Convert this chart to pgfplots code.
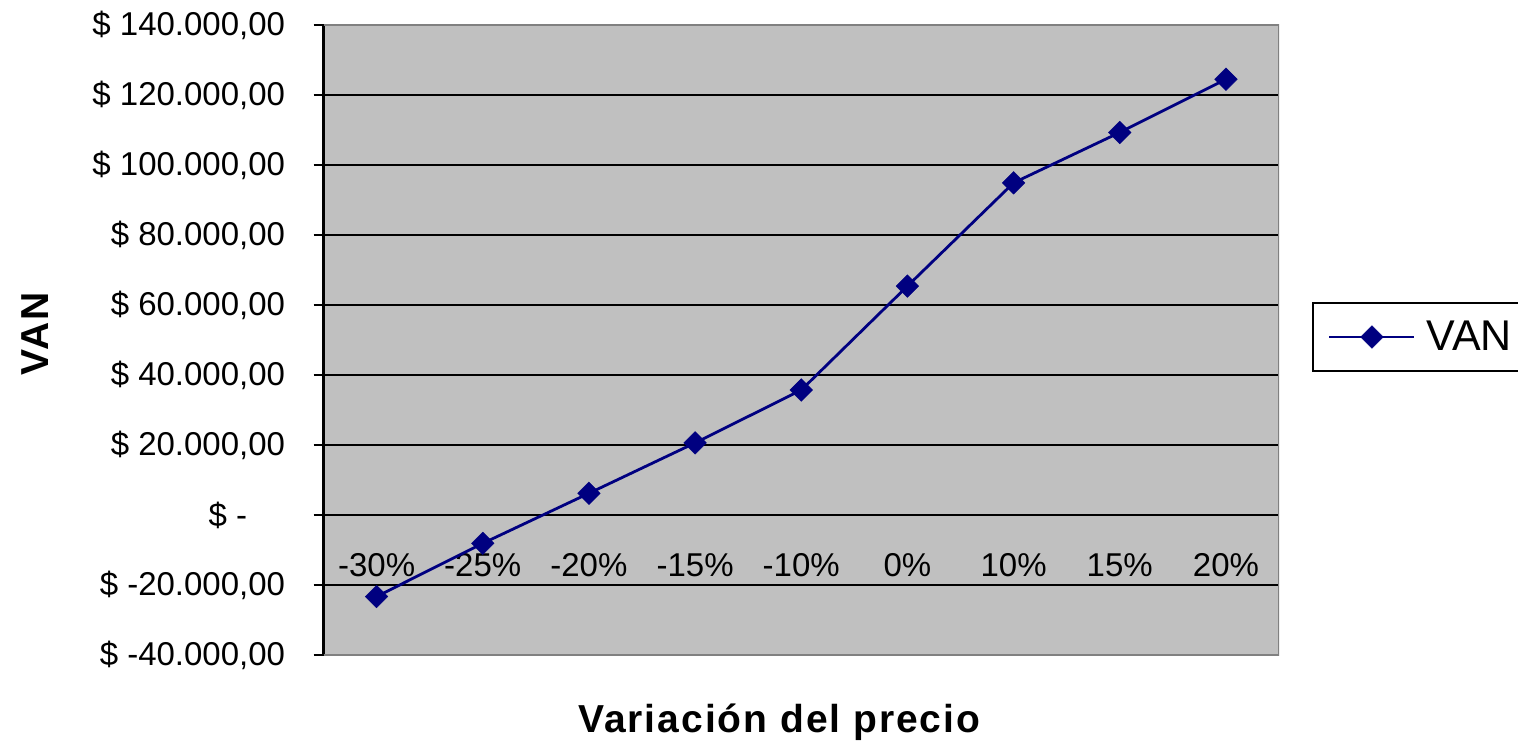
\documentclass[border=0pt]{standalone}
\usepackage{fontspec}
\setmainfont{Liberation Sans}
\newfontfamily\titlefont[LetterSpace=5]{Liberation Sans}
\usepackage{pgfplots}
\pgfplotsset{compat=1.18}

\definecolor{plotgray}{HTML}{C0C0C0}
\definecolor{framegray}{HTML}{808080}
\definecolor{vanblue}{HTML}{000080}

\begin{document}
\begin{tikzpicture}
\begin{axis}[
  scale only axis,
  width=477.75pt, height=315pt,
  xmin=-0.5, xmax=8.5,
  ymin=-40000, ymax=140000,
  scaled y ticks=false,
  axis background/.style={fill=plotgray},
  axis x line=middle, axis y line=left,
  x axis line style={-, black, line width=1pt},
  y axis line style={-, black, line width=1.5pt},
  tick align=outside,
  major tick length=5pt, minor tick length=5pt,
  xtick={0,...,8},
  xticklabels={-30\%,-25\%,-20\%,-15\%,-10\%,0\%,10\%,15\%,20\%},
  minor xtick={-0.5,0.5,...,8.5},
  xtick style={draw=none},
  minor x tick style={black, line width=1pt},
  xticklabel style={anchor=center, inner sep=0pt, yshift=-20pt},
  ytick={-40000,-20000,...,140000},
  yticklabels={{\$ -40.000,00},{\$ -20.000,00},{\$ -\kern19pt},{\$ 20.000,00},{\$ 40.000,00},{\$ 60.000,00},{\$ 80.000,00},{\$ 100.000,00},{\$ 120.000,00},{\$ 140.000,00}},
  ytick style={black, line width=1pt},
  yticklabel style={anchor=east, inner sep=0pt, xshift=-14pt},
  tick label style={font=\fontsize{16.5}{19.8}\selectfont},
  ymajorgrids,
  major grid style={black, line width=1pt},
  xlabel={Variación del precio},
  every axis x label/.style={at={(axis description cs:0.477,-0.1235)}, anchor=base,
    font=\titlefont\bfseries\fontsize{19.5}{23}\selectfont},
  ylabel={VAN},
  every axis y label/.style={at={(axis description cs:-0.302,0.51)}, anchor=center, rotate=90,
    font=\titlefont\bfseries\fontsize{19.5}{23}\selectfont},
  legend style={at={(1,0.5)}, anchor=west, xshift=16.5pt, yshift=1.5pt,
    draw=black, line width=1pt, fill=white, inner xsep=0pt, inner ysep=7pt,
    column sep=2pt, nodes={inner xsep=3.5pt},
    font=\fontsize{21.5}{25}\selectfont},
  legend image code/.code={\path (0pt,0pt);
    \draw[mark repeat=2, mark phase=2, #1]
    plot coordinates {(7.5pt,0pt) (28.75pt,0pt) (50pt,0pt)};},
]
\addplot[vanblue, line width=1.4pt, mark=square*, mark size=4pt,
  mark options={rotate=45, fill=vanblue, draw=vanblue, line width=0.2pt}]
  coordinates {(0,-23300) (1,-8100) (2,6200) (3,20600) (4,35700)
               (5,65400) (6,94900) (7,109300) (8,124500)};
\addlegendentry{VAN}
\draw[framegray, line width=1pt] (rel axis cs:0,0) -- (rel axis cs:1,0)
  -- (rel axis cs:1,1) -- (rel axis cs:0,1);
\coordinate (ll) at (rel axis cs:0,0);
\coordinate (ur) at (rel axis cs:1,1);
\end{axis}
\pgfresetboundingbox
\path[use as bounding box] ([xshift=-161.75pt,yshift=-46pt]ll) rectangle ([xshift=119.5pt,yshift=12.5pt]ur);
\end{tikzpicture}
\end{document}
